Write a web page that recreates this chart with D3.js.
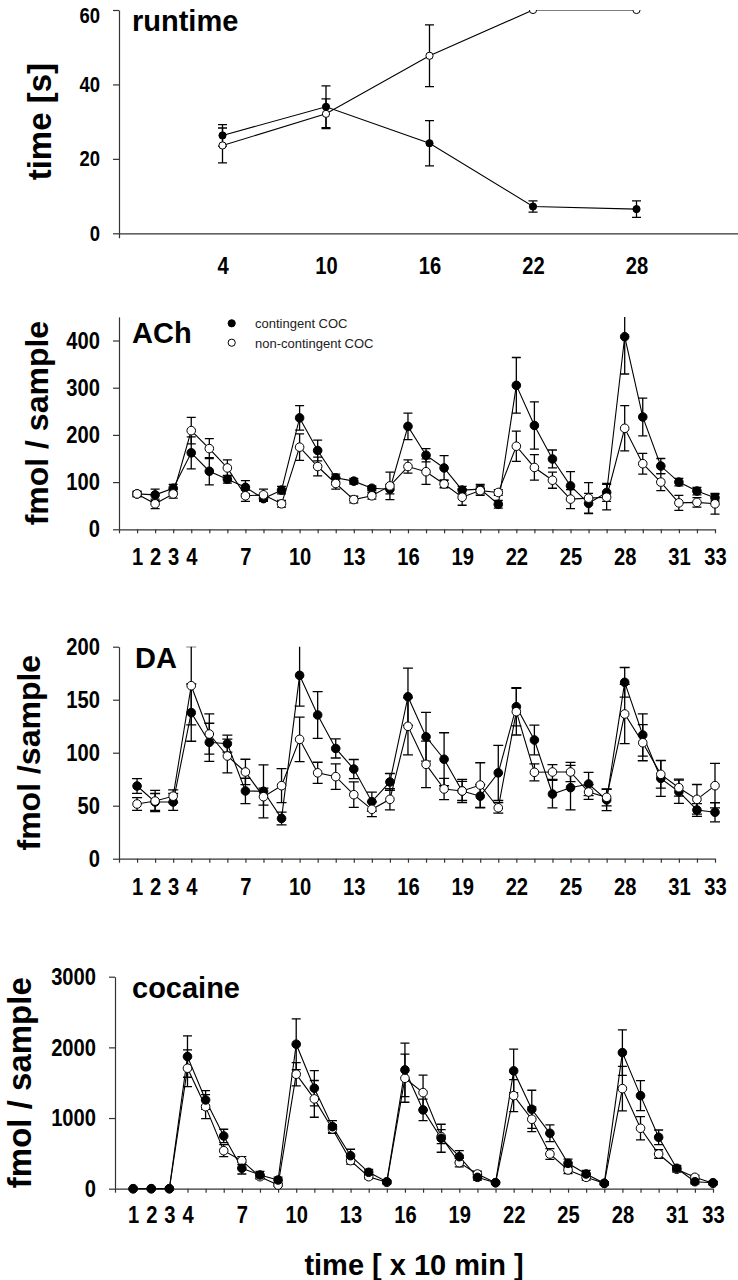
<!DOCTYPE html>
<html><head><meta charset="utf-8">
<script src="https://cdn.jsdelivr.net/npm/d3@7"></script>
<style>
html,body{margin:0;padding:0;background:#fff;}
svg{display:block;}
.tick text{font-family:"Liberation Sans",Arial,sans-serif;font-weight:bold;fill:#000;}
</style>
</head><body>
<script>
// ---------- data ----------
const runtimeX = [4, 10, 16, 22, 28];
const runtimeCont = [26.3, 34.0, 24.2, 7.2, 6.5];
const runtimeContErr = [2.9, 5.6, 6.1, 1.5, 2.2];
const runtimeNon = [23.6, 32.1, 47.7, 60, 60];
const runtimeNonErr = [4.7, 4.0, 8.3, 0, 0];
const runtimeXTicks = [4, 10, 16, 22, 28];
const runtimeYTicks = [0, 20, 40, 60];

const samples = d3.range(1, 34);
const sampleTickLabels = [1, 2, 3, 4, 7, 10, 13, 16, 19, 22, 25, 28, 31, 33];

const achCont = [75,73,87,162,123,106,89,65,83,236,167,109,102,87,85,218,157,130,83,85,53,305,220,149,92,55,78,408,238,134,100,81,67];
const achContErr = [5,12,8,34,29,8,14,6,8,26,22,8,6,5,10,28,14,26,8,10,8,59,50,19,30,21,19,79,40,16,8,8,7];
const achNon = [75,54,75,209,171,130,71,73,54,174,133,97,63,71,92,133,122,96,68,82,78,176,131,104,64,66,68,214,139,100,56,57,54];
const achNonErr = [6,10,9,28,21,17,12,12,7,28,20,12,7,7,29,14,27,8,17,10,6,32,27,17,20,33,27,48,22,18,16,10,22];
const achYTicks = [0, 100, 200, 300, 400];

const daCont = [68.6,53.5,53.5,137.8,109.8,108.5,63.9,63.6,38,173,135.6,104,84.6,53.8,72.4,152.8,115,93.8,63.9,59,81,143.4,112,61,67,70.5,55.4,166.4,116.7,75.8,63.2,46,43.8];
const daContErr = [7,8,8,27,18,8,12,25,6,29,22,9,9,9,8,27,23,25,11,11,26,18,14,13,21,11,10,14,20,17,11,6,9];
const daNon = [51.6,54.4,59,163.2,117.6,96.9,81.8,58.5,68.9,112.6,81,77.4,60.4,46.6,56,124.9,89,65.8,63.9,69.5,48,138.7,81.5,81.8,81.8,62.9,57.9,136.5,109.4,79.6,67,56,68.9];
const daNonErr = [6,10,6,37,19,16,12,8,16,21,10,12,12,7,10,27,22,10,9,21,5,22,8,7,9,7,8,28,17,13,8,14,21];
const daYTicks = [0, 50, 100, 150, 200];

const cocCont = [0,0,0,1870,1256,746,289,194,123,2045,1422,878,467,232,99,1681,1115,714,453,161,85,1667,1124,784,359,208,76,1926,1317,728,289,99,85];
const cocContErr = [0,0,0,293,132,95,81,50,40,359,249,85,91,40,20,378,152,198,85,40,20,307,269,118,60,50,20,322,213,103,40,30,20];
const cocNon = [0,0,0,1705,1161,538,397,170,52,1620,1271,845,397,170,90,1563,1360,737,368,208,85,1317,983,491,265,161,76,1416,855,491,275,161,76];
const cocNonErr = [0,0,0,260,169,85,56,30,20,165,260,60,50,30,20,340,246,100,60,40,20,226,176,75,50,40,20,316,165,60,40,30,20];
const cocYTicks = [0, 1000, 2000, 3000];

const legendLabels = ["contingent COC", "non-contingent COC"];
// ---------- drawing ----------
const W = 738, H = 1280;
const svg = d3.select("body").append("svg").attr("width", W).attr("height", H);
const AX = "#333";
const BOLD = "'Liberation Sans', Arial, sans-serif";

function narrow(sel, k) {
  sel.each(function () {
    const t = d3.select(this);
    if (!t.text()) return;
    const w = this.getComputedTextLength();
    t.attr("textLength", w * k).attr("lengthAdjust", "spacingAndGlyphs");
  });
}

function panel(cfg) {
  const g = svg.append("g");
  const x = d3.scaleLinear().domain(cfg.xDomain).range(cfg.xRange);
  const y = d3.scaleLinear().domain(cfg.yDomain).range(cfg.yRange);
  const id = "clip" + cfg.name;
  svg.append("clipPath").attr("id", id).append("rect")
    .attr("x", cfg.xRange[0] - 15).attr("y", cfg.yRange[1])
    .attr("width", cfg.xRange[1] - cfg.xRange[0] + 30)
    .attr("height", cfg.yRange[0] - cfg.yRange[1] + 15);

  // y axis
  const ya = g.append("g").attr("transform", `translate(${cfg.xRange[0]},0)`)
    .call(d3.axisLeft(y).tickValues(cfg.yTicks).tickSize(6).tickPadding(13).tickSizeOuter(0).tickFormat(d3.format("d")));
  ya.selectAll("text").style("font-size", cfg.yTickFont + "px");
  if (cfg.topLabelDy) ya.selectAll("text").filter(d => d === cfg.yDomain[1]).attr("dy", cfg.topLabelDy);
  narrow(ya.selectAll("text"), 0.84);
  ya.selectAll("path,line").attr("stroke", AX).attr("stroke-width", 1.2);
  // x axis
  const xa = g.append("g").attr("transform", `translate(0,${cfg.yRange[0]})`)
    .call(d3.axisBottom(x).tickValues(cfg.xTicks).tickSize(cfg.xTickSize).tickPadding(cfg.xTickPad).tickSizeOuter(cfg.xOuter || 0)
      .tickFormat(d => cfg.xLabels.includes(d) ? String(d) : ""));
  xa.selectAll("text").style("font-size", cfg.xTickFont + "px");
  narrow(xa.selectAll("text"), 0.84);
  xa.selectAll("path,line").attr("stroke", AX).attr("stroke-width", 1.2);

  // y title
  g.append("text").attr("transform", `translate(${cfg.yTitleX},${(cfg.yRange[0] + cfg.yRange[1]) / 2}) rotate(-90)`)
    .attr("text-anchor", "middle").style("font-family", BOLD).style("font-weight", "bold")
    .style("font-size", cfg.yTitleSize + "px").text(cfg.yTitle);
  // panel label
  g.append("text").attr("x", cfg.labelX).attr("y", cfg.labelY)
    .style("font-family", BOLD).style("font-weight", "bold").style("font-size", "29px").text(cfg.label);

  const plot = g.append("g").attr("clip-path", `url(#${id})`);
  cfg.series.forEach(s => {
    const pts = cfg.xs.map((xv, i) => ({ x: xv, v: s.v[i], e: s.e[i] }));
    plot.append("path").datum(pts)
      .attr("d", d3.line().x(d => x(d.x)).y(d => y(d.v)))
      .attr("fill", "none").attr("stroke", "#000").attr("stroke-width", 1.1);
    const eb = plot.append("g").selectAll("g").data(pts.filter(d => d.e > 0)).join("g");
    eb.append("line").attr("x1", d => x(d.x)).attr("x2", d => x(d.x))
      .attr("y1", d => y(d.v - d.e)).attr("y2", d => y(d.v + d.e));
    eb.append("line").attr("x1", d => x(d.x) - cfg.cap).attr("x2", d => x(d.x) + cfg.cap)
      .attr("y1", d => y(d.v + d.e)).attr("y2", d => y(d.v + d.e));
    eb.append("line").attr("x1", d => x(d.x) - cfg.cap).attr("x2", d => x(d.x) + cfg.cap)
      .attr("y1", d => y(d.v - d.e)).attr("y2", d => y(d.v - d.e));
    eb.selectAll("line").attr("stroke", "#000").attr("stroke-width", 1.3);
    s.pts = pts;
  });
  cfg.series.forEach(s => {
    plot.append("g").selectAll("circle").data(s.pts).join("circle")
      .attr("cx", d => x(d.x)).attr("cy", d => y(d.v)).attr("r", cfg.r)
      .attr("fill", s.filled ? "#000" : "#fff").attr("stroke", "#000").attr("stroke-width", 1);
  });
  return { g, x, y };
}

// runtime
panel({
  name: "rt", xs: runtimeX, xDomain: [-2, 34], xRange: [119, 740],
  yDomain: [0, 60], yRange: [233.3, 10], yTicks: runtimeYTicks, topLabelDy: "0.55em",
  xTicks: runtimeXTicks, xLabels: runtimeXTicks, xTickSize: 0, xTickPad: 24, xOuter: 5,
  yTickFont: 22, xTickFont: 24, yTitle: "time [s]", yTitleX: 51, yTitleSize: 33,
  label: "runtime", labelX: 132, labelY: 31, cap: 4.5, r: 3.6,
  series: [
    { v: runtimeNon, e: runtimeNonErr, filled: false },
    { v: runtimeCont, e: runtimeContErr, filled: true }
  ]
});

// ACh
const ach = panel({
  name: "ach", xs: samples, xDomain: [0, 33], xRange: [119, 715],
  yDomain: [0, 450], yRange: [529.3, 316.9], yTicks: achYTicks,
  xTicks: d3.range(0, 34), xLabels: sampleTickLabels, xTickSize: 4, xTickPad: 15,
  yTickFont: 24, xTickFont: 24, yTitle: "fmol / sample", yTitleX: 48, yTitleSize: 32,
  label: "ACh", labelX: 132, labelY: 343, cap: 4.5, r: 4.3,
  series: [
    { v: achCont, e: achContErr, filled: true },
    { v: achNon, e: achNonErr, filled: false }
  ]
});
// legend
const lg = ach.g.append("g");
[[323.3, true], [342.7, false]].forEach(([cy, f], i) => {
  lg.append("circle").attr("cx", 231.7).attr("cy", cy).attr("r", 3.6)
    .attr("fill", f ? "#000" : "#fff").attr("stroke", "#000").attr("stroke-width", 1);
  lg.append("text").attr("x", 255).attr("y", cy + 4.8).style("font-family", "'Liberation Sans', Arial, sans-serif")
    .style("font-size", "13px").attr("fill", "#222").text(legendLabels[i]);
});

// DA
panel({
  name: "da", xs: samples, xDomain: [0, 33], xRange: [119, 715],
  yDomain: [0, 200], yRange: [858.7, 646.7], yTicks: daYTicks,
  xTicks: d3.range(0, 34), xLabels: sampleTickLabels, xTickSize: 4, xTickPad: 15,
  yTickFont: 24, xTickFont: 24, yTitle: "fmol /sample", yTitleX: 40, yTitleSize: 32,
  label: "DA", labelX: 135, labelY: 668, cap: 5, r: 4.3,
  series: [
    { v: daCont, e: daContErr, filled: true },
    { v: daNon, e: daNonErr, filled: false }
  ]
});

// cocaine
panel({
  name: "coc", xs: samples, xDomain: [0, 33], xRange: [115, 713],
  yDomain: [0, 3000], yRange: [1188.7, 976.7], yTicks: cocYTicks,
  xTicks: d3.range(0, 34), xLabels: sampleTickLabels, xTickSize: 4, xTickPad: 13,
  yTickFont: 24, xTickFont: 24, yTitle: "fmol / sample", yTitleX: 31, yTitleSize: 33,
  label: "cocaine", labelX: 132, labelY: 998, cap: 4.5, r: 4.3,
  series: [
    { v: cocNon, e: cocNonErr, filled: false },
    { v: cocCont, e: cocContErr, filled: true }
  ]
});

// x title
svg.append("text").attr("x", 414).attr("y", 1275).attr("text-anchor", "middle")
  .style("font-family", BOLD).style("font-weight", "bold").style("font-size", "29px")
  .text("time [ x 10 min ]");
</script>
</body></html>
